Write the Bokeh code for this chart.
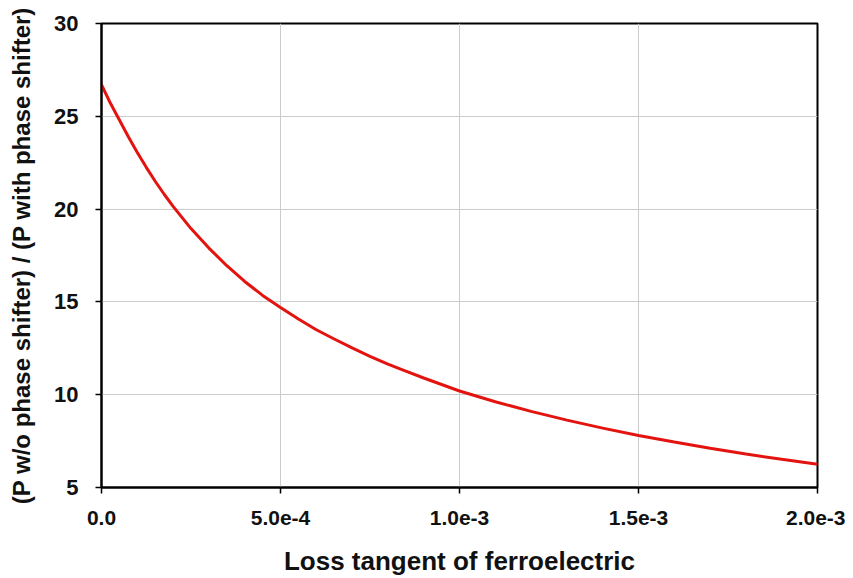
from bokeh.plotting import figure
from bokeh.models import Range1d, FixedTicker, CustomJSTickFormatter
from bokeh.embed import file_html
from bokeh.resources import INLINE

loss_tangent = [0.0, 0.25e-4, 0.5e-4, 0.75e-4, 1.0e-4, 1.25e-4, 1.5e-4, 1.75e-4, 2.0e-4,
                2.5e-4, 3.0e-4, 3.5e-4, 4.0e-4, 4.5e-4, 5.0e-4, 5.5e-4,
                6.0e-4, 6.5e-4, 7.0e-4, 7.5e-4, 8.0e-4, 8.5e-4, 9.0e-4, 9.5e-4,
                1.0e-3, 1.1e-3, 1.2e-3, 1.3e-3, 1.4e-3, 1.5e-3, 1.6e-3, 1.7e-3,
                1.8e-3, 1.9e-3, 2.0e-3]
power_ratio = [26.7, 25.7, 24.8, 23.9, 23.05, 22.25, 21.5, 20.8, 20.15,
               18.95, 17.9, 16.95, 16.1, 15.35, 14.7, 14.08,
               13.5, 13.0, 12.52, 12.07, 11.65, 11.27, 10.9, 10.55,
               10.2, 9.62, 9.1, 8.63, 8.2, 7.8, 7.45, 7.12,
               6.8, 6.52, 6.25]
x_ticks = [0.0, 5.0e-4, 1.0e-3, 1.5e-3, 2.0e-3]
y_ticks = [5, 10, 15, 20, 25, 30]

p = figure(width=845, height=578, output_backend="svg", toolbar_location=None,
           x_range=Range1d(0, 2.0e-3), y_range=Range1d(5, 30),
           min_border_left=101, min_border_right=28, min_border_top=23, min_border_bottom=88)

p.line(loss_tangent, power_ratio, line_color="#e3140f", line_width=3)

font = "Liberation Sans"
p.xaxis.ticker = FixedTicker(ticks=x_ticks)
p.yaxis.ticker = FixedTicker(ticks=y_ticks)
p.xaxis.formatter = CustomJSTickFormatter(code="return tick == 0 ? '0.0' : tick.toExponential(1);")
p.xaxis.axis_label = "Loss tangent of ferroelectric"
p.yaxis.axis_label = "(P w/o phase shifter) / (P with phase shifter)"

for ax in (p.xaxis, p.yaxis):
    ax.axis_label_text_font = font
    ax.axis_label_text_font_style = "bold"
    ax.axis_label_text_color = "#111111"
    ax.major_label_text_font = font
    ax.major_label_text_font_style = "bold"
    ax.major_label_text_color = "#111111"
    ax.axis_line_color = "black"
    ax.axis_line_width = 2
    ax.major_tick_line_color = "black"
    ax.major_tick_line_width = 1.5
    ax.major_tick_in = 0
    ax.major_tick_out = 6
    ax.minor_tick_line_color = None

p.xaxis.major_label_text_font_size = "21px"
p.yaxis.major_label_text_font_size = "22px"
p.xaxis.axis_label_text_font_size = "26px"
p.yaxis.axis_label_text_font_size = "24px"
p.xaxis.major_label_standoff = 17
p.xaxis.axis_label_standoff = 18
p.yaxis.major_label_standoff = 17
p.yaxis.axis_label_standoff = 16

p.xgrid.grid_line_color = "#cccccc"
p.ygrid.grid_line_color = "#cccccc"
p.xgrid.grid_line_width = 1
p.ygrid.grid_line_width = 1

p.outline_line_color = "black"
p.outline_line_width = 2
p.outline_line_alpha = 1
p.background_fill_color = "white"
p.border_fill_color = "white"

open("out.html", "w").write(file_html(p, INLINE))
